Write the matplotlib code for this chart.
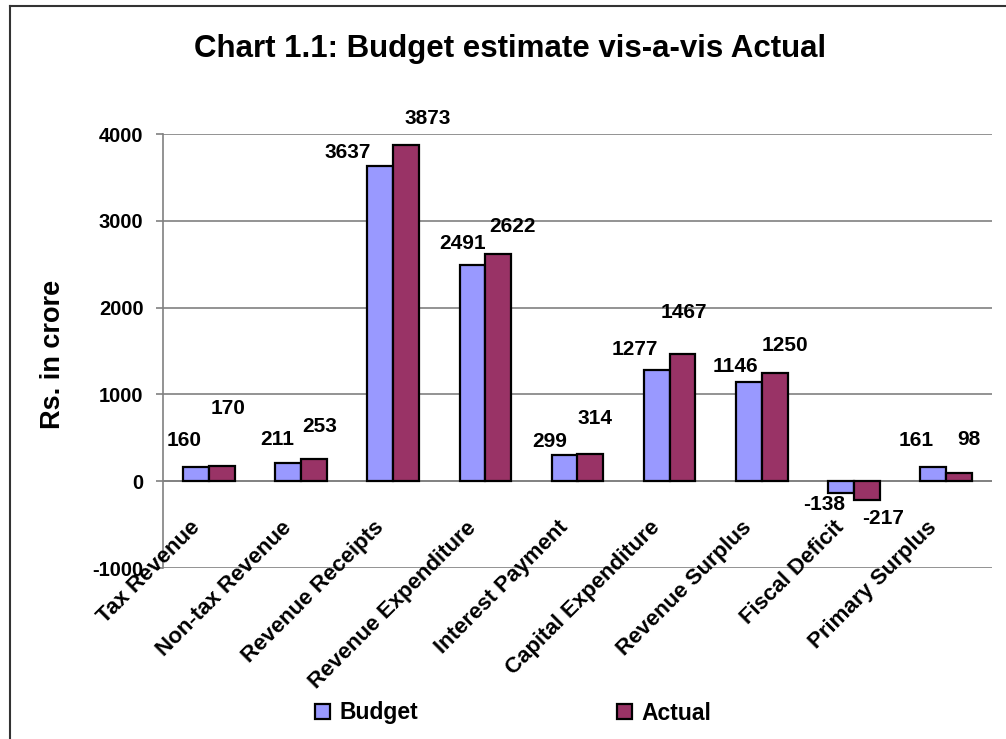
# %%
import numpy as np
import matplotlib.pyplot as plt
from matplotlib.lines import Line2D
from matplotlib.patches import Patch

# Data
# ------------------------------------------------------------------------------
categories = ["Tax Revenue", "Non-tax Revenue", "Revenue Receipts",
              "Revenue Expenditure", "Interest Payment", "Capital Expenditure",
              "Revenue Surplus", "Fiscal Deficit", "Primary Surplus"]
budget = [160, 211, 3637, 2491, 299, 1277, 1146, -138, 161]
actual = [170, 253, 3873, 2622, 314, 1467, 1250, -217, 98]
yticks = [-1000, 0, 1000, 2000, 3000, 4000]

# label nudges in pixels (the original labels sit a bit irregularly)
budget_dx = [-12, -11, -33, -10, -15, -22, -13, -17, -17]
budget_dy = [27, 23, 13, 21, 14, 21, 15, -11, 27]
actual_dx = [6, 6, 22, 14, 5, 1, 10, 16, 10]
actual_dy = [58, 33, 27, 27, 35, 41, 27, -18, 33]

c_budget = "#9999FF"
c_actual = "#993366"

plt.rcParams["font.family"] = ["Liberation Sans", "DejaVu Sans"]
plt.rcParams["font.weight"] = "bold"

fig = plt.figure(figsize=(10.06, 7.39), dpi=100)
ax = fig.add_axes([163 / 1006, 1 - 568 / 739, (992 - 163) / 1006, (568 - 134) / 739])

x = np.arange(len(categories))
w = 0.28
ax.bar(x - w / 2, budget, w, color=c_budget, edgecolor="black", linewidth=1.6, zorder=3)
ax.bar(x + w / 2, actual, w, color=c_actual, edgecolor="black", linewidth=1.6, zorder=3)

ax.set_xlim(-0.5, len(categories) - 0.5)
ax.set_ylim(-1000, 4000)
ax.set_yticks(yticks)
ax.set_yticklabels([str(t) for t in yticks], fontsize=14.5, fontweight="bold")
ax.yaxis.grid(True, color="#808080", linewidth=1.2, zorder=0)
ax.axhline(0, color="#808080", linewidth=1.2, zorder=2)
ax.set_xticks([])
for s in ["top", "right", "bottom"]:
    ax.spines[s].set_visible(False)
ax.spines["left"].set_color("#808080")
ax.spines["left"].set_linewidth(1.2)
ax.tick_params(axis="y", length=5, width=1.2, color="#808080", pad=9)

# value labels
for i in range(len(categories)):
    ax.annotate(str(budget[i]), (x[i] - w / 2, budget[i]), xytext=(budget_dx[i], budget_dy[i]),
                textcoords="offset pixels", ha="center", va="center",
                fontsize=15, fontweight="bold")
    ax.annotate(str(actual[i]), (x[i] + w / 2, actual[i]), xytext=(actual_dx[i], actual_dy[i]),
                textcoords="offset pixels", ha="center", va="center",
                fontsize=15, fontweight="bold")

# category labels hang off the zero line
for i, name in enumerate(categories):
    ax.annotate(name, (x[i], 0), xytext=(-20, -36), textcoords="offset pixels",
                rotation=45, ha="right", va="top", rotation_mode="anchor",
                fontsize=16, fontweight="bold", annotation_clip=False)

ax.set_ylabel("Rs. in crore", fontsize=19.5, fontweight="bold", va="center")
ax.yaxis.set_label_coords(-(163 - 53) / 829, (568 - 354) / 434)

fig.text(510 / 1006, 1 - 49 / 739, "Chart 1.1: Budget estimate vis-a-vis Actual",
         ha="center", va="center", fontsize=22.5, fontweight="bold")

handles = [Patch(facecolor=c_budget, edgecolor="black", linewidth=1.6),
           Patch(facecolor=c_actual, edgecolor="black", linewidth=1.6)]
fig.legend(handles, ["Budget", "Actual"], loc="center",
           bbox_to_anchor=(513 / 1006, 1 - 713 / 739), ncol=2, frameon=False,
           prop={"size": 16.5, "weight": "bold"}, handlelength=0.65, handleheight=0.65,
           handletextpad=0.4, columnspacing=8.7)

# chart-area frame (only left and top edges are visible in the crop)
fig.add_artist(Line2D([9.5 / 1006, 9.5 / 1006], [0, 1 - 6 / 739], color="#333333", linewidth=1.5))
fig.add_artist(Line2D([9.5 / 1006, 1], [1 - 6 / 739, 1 - 6 / 739], color="#333333", linewidth=1.5))

fig.savefig("out.png", dpi=100)
